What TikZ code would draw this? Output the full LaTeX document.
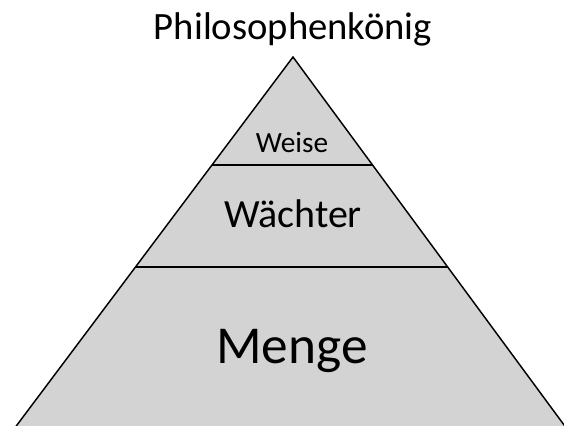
\documentclass[tikz,border=0pt]{standalone}
\usepackage{fontspec}
\setmainfont{Carlito}
\definecolor{pyrfill}{RGB}{211,211,211}
\begin{document}
\begin{tikzpicture}[x=0.75pt,y=-0.75pt,
  layer/.style={draw=black,line width=1.1pt},
  lbl/.style={anchor=base,inner sep=0pt,text=black}]
\useasboundingbox (0,0) rectangle (564,425);
\clip (0,0) rectangle (564,425);
\coordinate (apex) at (293,57);
\coordinate (bl) at (14,429);
\coordinate (br) at (567,429);
\coordinate (w1) at (212,165);
\coordinate (w2) at (373,165);
\coordinate (m1) at (135,267);
\coordinate (m2) at (448,267);
\filldraw[layer,fill=pyrfill,line join=miter] (apex) -- (br) -- (bl) -- cycle;
\draw[layer] (w1) -- (w2);
\draw[layer] (m1) -- (m2);
\node[lbl,font=\fontsize{29}{34}\selectfont] (top) at (293,39) {Philosophenkönig};
\node[lbl,font=\fontsize{22}{26}\selectfont] (weise) at (292,152) {Weise};
\node[lbl,font=\fontsize{30}{36}\selectfont] (waechter) at (293,227) {Wächter};
\node[lbl,font=\fontsize{40}{48}\selectfont] (menge) at (292,363) {Menge};
\end{tikzpicture}
\end{document}
